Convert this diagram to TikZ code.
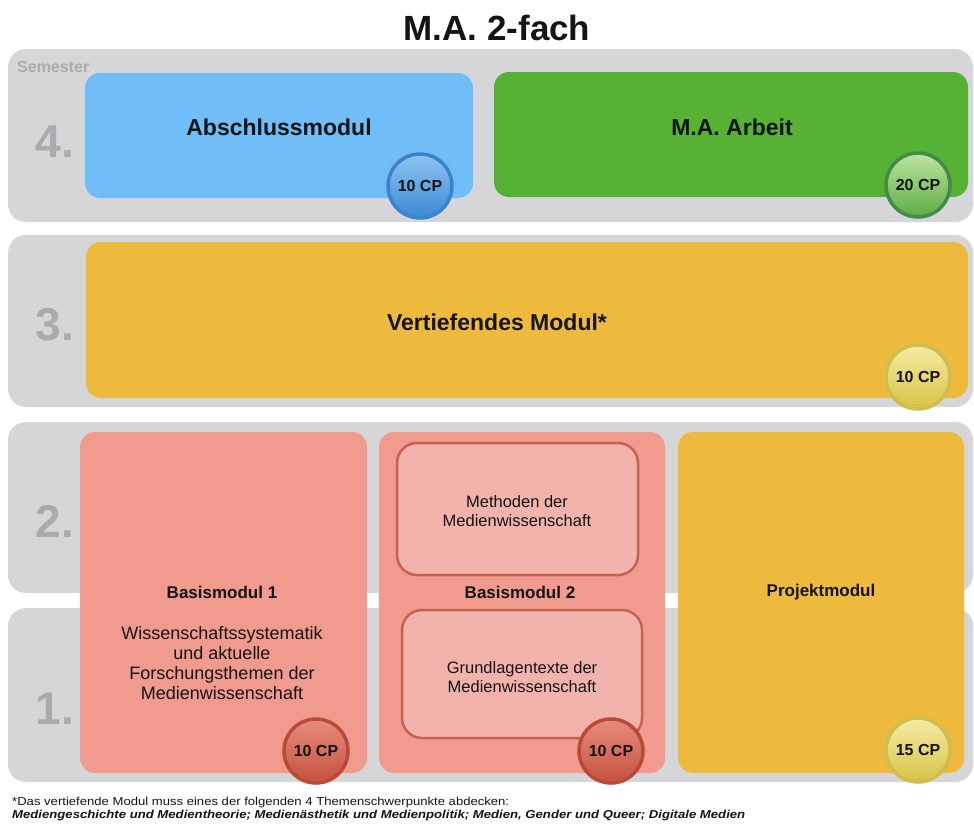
\documentclass[tikz,border=0pt]{standalone}
\usepackage{fontspec}
\setmainfont{Liberation Sans}
\usepackage{graphicx}
\definecolor{bandgray}{HTML}{D6D6D8}
\definecolor{numgray}{HTML}{ABABAB}
\definecolor{blueM}{HTML}{70BDF7}
\definecolor{greenM}{HTML}{56B135}
\definecolor{yellowM}{HTML}{EDBA3D}
\definecolor{salmonM}{HTML}{F19B8F}
\definecolor{innerF}{HTML}{F3B3AD}
\definecolor{innerD}{HTML}{C4624F}
\definecolor{txt}{HTML}{141414}
\definecolor{blueRing}{HTML}{3B84CD}
\definecolor{blueTop}{HTML}{8EC5F0}
\definecolor{blueBot}{HTML}{3C88D4}
\definecolor{greenRing}{HTML}{3F8C4C}
\definecolor{greenTop}{HTML}{BCE49E}
\definecolor{greenBot}{HTML}{5EAC46}
\definecolor{yelRing}{HTML}{CFBE4D}
\definecolor{yelTop}{HTML}{F5EBA2}
\definecolor{yelBot}{HTML}{D7C446}
\definecolor{redRing}{HTML}{B94A3A}
\definecolor{redTop}{HTML}{E88C7C}
\definecolor{redBot}{HTML}{C4523F}
\tikzset{
  band/.style={fill=bandgray, rounded corners=18pt},
  modbox/.style={rounded corners=15pt},
  innerbox/.style={fill=innerF, draw=innerD, line width=2.5pt, rounded corners=20pt},
  semnum/.style={text=numgray, font=\fontsize{46}{50}\selectfont\bfseries, inner sep=0pt},
  modtitle/.style={text=txt, font=\fontsize{23}{26}\selectfont\bfseries, inner sep=0pt},
  subtitle/.style={text=txt, font=\fontsize{17}{20}\selectfont\bfseries, inner sep=0pt},
  bodytext/.style={text=txt, font=\fontsize{18}{20}\selectfont, align=center, inner sep=0pt},
  smalltext/.style={text=txt, font=\fontsize{16.5}{18.5}\selectfont, align=center, inner sep=0pt},
  badge/.style={circle, minimum size=64pt, inner sep=0pt, line width=3.5pt, text=txt,
    font=\fontsize{16}{18}\selectfont\bfseries},
  bluebadge/.style={badge, draw=blueRing, top color=blueTop, bottom color=blueBot},
  greenbadge/.style={badge, draw=greenRing, top color=greenTop, bottom color=greenBot},
  yelbadge/.style={badge, draw=yelRing, top color=yelTop, bottom color=yelBot},
  redbadge/.style={badge, draw=redRing, top color=redTop, bottom color=redBot},
}
\begin{document}
\begin{tikzpicture}[x=1pt,y=-1pt]
\useasboundingbox (0,0) rectangle (974,828);
\fill[white] (0,0) rectangle (974,828);
% title
\node[text=txt, font=\fontsize{35}{38}\selectfont\bfseries, anchor=base, inner sep=0pt] (title) at (497,40) {M.A. 2-fach};
% semester bands
\fill[band] (8,49) rectangle (973,222);
\fill[band] (8,235) rectangle (973,407);
\fill[band] (8,422) rectangle (973,593);
\fill[band] (8,608) rectangle (973,782);
\node[text=numgray, font=\fontsize{16}{18}\selectfont\bfseries, anchor=west, inner sep=0pt] (sem) at (17,67) {Semester};
\node[semnum] (n4) at (55,142) {4.};
\node[semnum] (n3) at (55,325) {3.};
\node[semnum] (n2) at (55,521) {2.};
\node[semnum] (n1) at (55,709) {1.};
% semester 4
\fill[blueM, modbox] (85,73) rectangle (473,198);
\node[modtitle] (abs) at (279,127) {Abschlussmodul};
\node[bluebadge] (absCP) at (420,186) {10 CP};
\fill[greenM, modbox] (494,72) rectangle (968,197);
\node[modtitle] (maa) at (732,127) {M.A. Arbeit};
\node[greenbadge] (maaCP) at (918,185) {20 CP};
% semester 3
\fill[yellowM, modbox] (86,242) rectangle (968,398);
\node[modtitle] (vert) at (497,322) {Vertiefendes Modul*};
\node[yelbadge] (vertCP) at (918,377) {10 CP};
% semesters 1-2
\fill[salmonM, modbox] (80,432) rectangle (367,773);
\node[subtitle] (b1) at (222,592) {Basismodul 1};
\node[bodytext] (b1t) at (222,663) {Wissenschaftssystematik\\und aktuelle\\Forschungsthemen der\\Medienwissenschaft};
\node[redbadge] (b1CP) at (316,751) {10 CP};
\fill[salmonM, modbox] (379,432) rectangle (665,773);
\path[innerbox] (397,443) rectangle (638,575);
\node[smalltext] (meth) at (517,511) {Methoden der\\Medienwissenschaft};
\node[subtitle] (b2) at (520,592) {Basismodul 2};
\path[innerbox] (402,610) rectangle (642,738);
\node[smalltext] (grund) at (522,677) {Grundlagentexte der\\Medienwissenschaft};
\node[redbadge] (b2CP) at (611,751) {10 CP};
\fill[yellowM, modbox] (678,432) rectangle (964,773);
\node[subtitle] (proj) at (821,592) {Projektmodul};
\node[yelbadge] (projCP) at (918,750) {15 CP};
% footer
\node[text=txt, anchor=base west, inner sep=0pt, font=\fontsize{11.5}{13}\selectfont] (foot1) at (12,805)
  {\resizebox{497pt}{\height}{*Das vertiefende Modul muss eines der folgenden 4 Themenschwerpunkte abdecken:}};
\node[text=txt, anchor=base west, inner sep=0pt, font=\fontsize{11.5}{13}\selectfont\bfseries\itshape] (foot2) at (12,818)
  {\resizebox{733pt}{\height}{Mediengeschichte und Medientheorie; Medienästhetik und Medienpolitik; Medien, Gender und Queer; Digitale Medien}};
\end{tikzpicture}
\end{document}
